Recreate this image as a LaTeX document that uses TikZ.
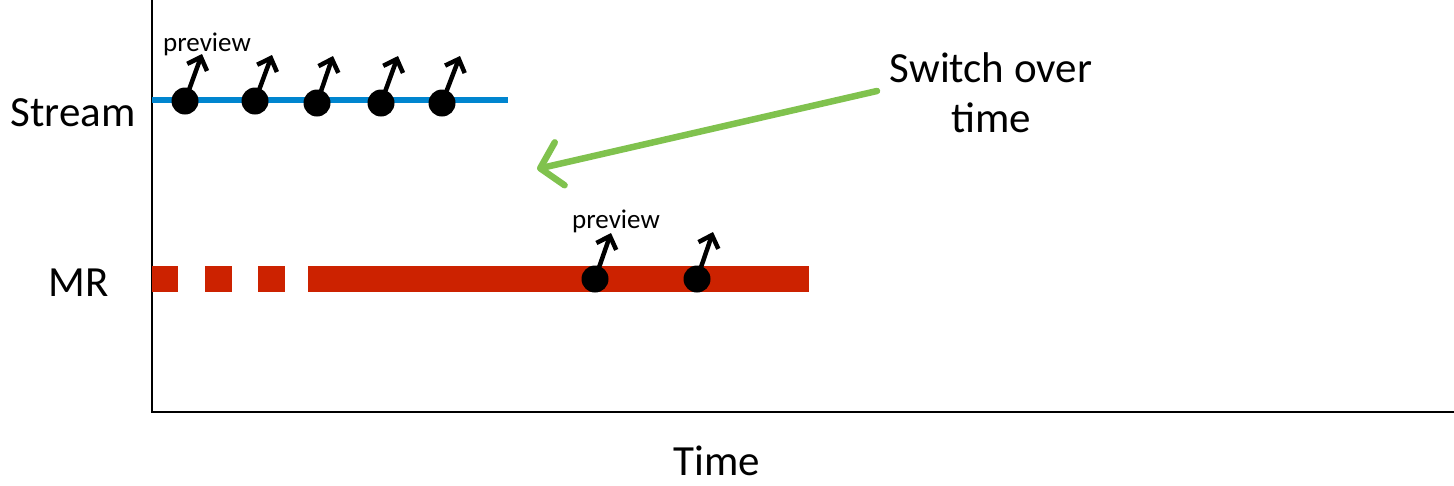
\documentclass[tikz,border=0pt]{standalone}
\usepackage{fontspec}
\setmainfont{Carlito}
\usetikzlibrary{arrows.meta}
\definecolor{streamblue}{RGB}{0,133,207}
\definecolor{mrred}{RGB}{204,34,0}
\definecolor{switchgreen}{RGB}{128,194,78}
\begin{document}
\begin{tikzpicture}[x=1pt,y=-1pt,
  dot/.style={circle,fill=black,inner sep=0pt,minimum size=27pt},
  evarrow/.style={line width=4.5pt,-{Straight Barb[length=11pt,width=21pt,line width=4.5pt]}},
  lbl/.style={font=\fontsize{43}{50}\selectfont,inner sep=0pt},
  small/.style={font=\fontsize{27}{30}\selectfont,inner sep=0pt},
  redbar/.style={mrred,line width=26pt}]
\useasboundingbox (0,0) rectangle (1454,485);
% axes
\coordinate (o) at (152,412);
\coordinate (ytop) at (152,0);
\coordinate (xend) at (1454,412);
\draw[line width=2pt] (ytop) -- (o) -- (xend);
% labels
\node[lbl] (stream) at (73,113) {Stream};
\node[lbl] (mr) at (79,283) {MR};
\node[lbl,anchor=base] (time) at (717,475) {Time};
% stream line
\coordinate (s0) at (152,100);
\coordinate (s1) at (508,100);
\draw[streamblue,line width=6pt] (s0) -- (s1);
% MR bar
\coordinate (m0) at (152,279);
\coordinate (m1) at (178,279);
\coordinate (m2) at (205,279);
\coordinate (m3) at (232,279);
\coordinate (m4) at (258,279);
\coordinate (m5) at (285,279);
\coordinate (m6) at (308,279);
\coordinate (m7) at (809,279);
\draw[redbar] (m0) -- (m1);
\draw[redbar] (m2) -- (m3);
\draw[redbar] (m4) -- (m5);
\draw[redbar] (m6) -- (m7);
% stream dots
\node[dot] (d1) at (185,101) {};
\node[dot] (d2) at (255,101) {};
\node[dot] (d3) at (317,103) {};
\node[dot] (d4) at (381,103) {};
\node[dot] (d5) at (442,103) {};
\coordinate (t1) at (202,54);
\coordinate (t2) at (272,55);
\coordinate (t3) at (333,56);
\coordinate (t4) at (398,56);
\coordinate (t5) at (460,56);
\foreach \i in {1,...,5} \draw[evarrow] (d\i.center) -- (t\i);
\node[small] (p1) at (207,44) {preview};
% MR dots
\node[dot] (e1) at (595,279) {};
\node[dot] (e2) at (697,279) {};
\coordinate (u1) at (611,233);
\coordinate (u2) at (713,232);
\draw[evarrow] (e1.center) -- (u1);
\draw[evarrow] (e2.center) -- (u2);
\node[small] (p2) at (616,221) {preview};
% switch
\node[lbl,align=center] (sw) at (991,93) {Switch over\\time};
\coordinate (gs) at (877,91);
\coordinate (ge) at (537,169);
\draw[switchgreen,line width=6.5pt,line cap=round,-{Straight Barb[length=20pt,width=44pt,line width=6.5pt,round]}] (gs) -- (ge);
\end{tikzpicture}
\end{document}
